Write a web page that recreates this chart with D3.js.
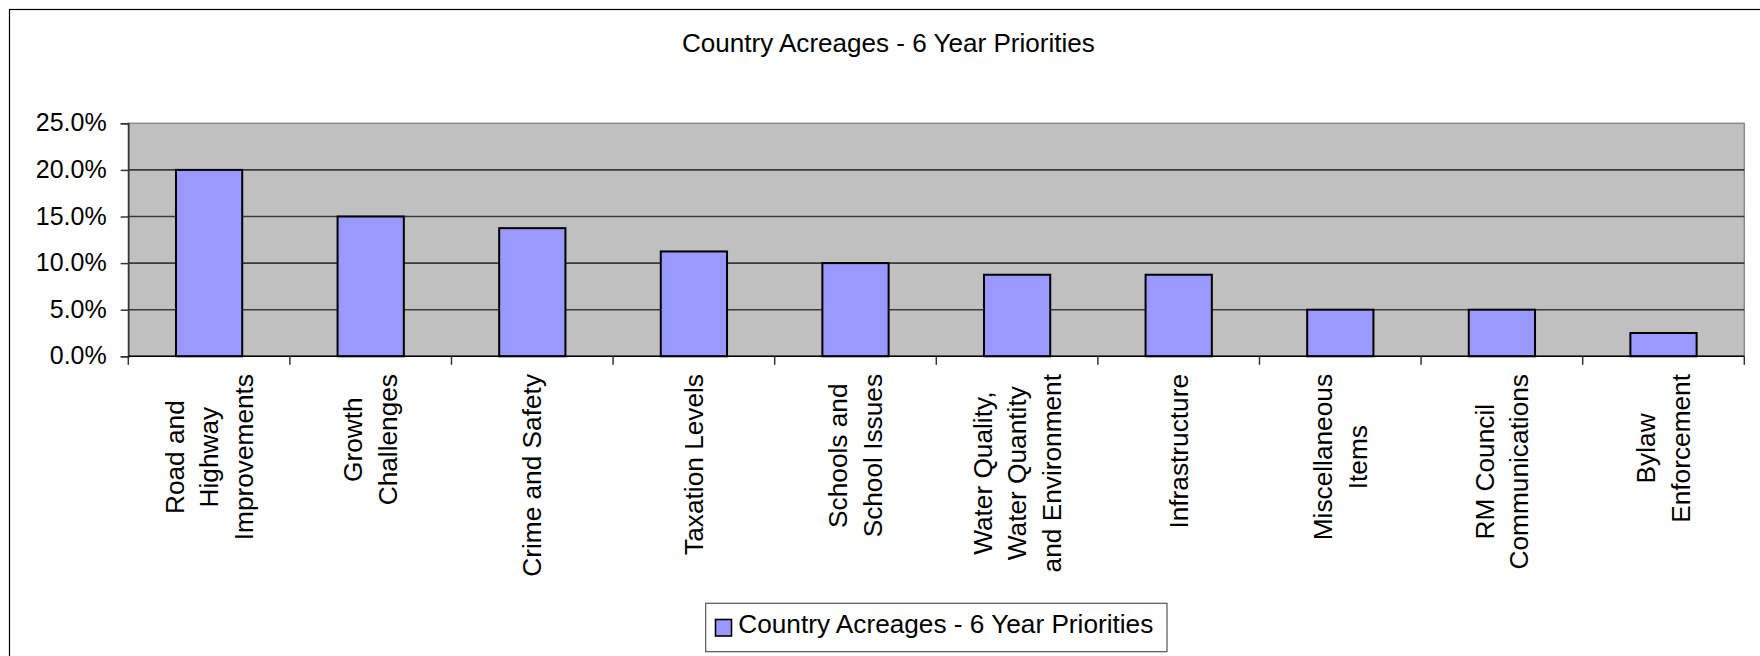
<!DOCTYPE html>
<html>
<head>
<meta charset="utf-8">
<script src="https://cdn.jsdelivr.net/npm/d3@7"></script>
<style>
  html, body { margin: 0; padding: 0; background: #fff; }
  svg { display: block; }
  text { font-family: "Liberation Sans", Arial, Helvetica, sans-serif; fill: #000; }
</style>
</head>
<body>
<svg id="chart" width="1760" height="656"></svg>
<script>
// Priority categories (line breaks mark wrapped axis labels)
const categories = [
  "Road and\nHighway\nImprovements",
  "Growth\nChallenges",
  "Crime and Safety",
  "Taxation Levels",
  "Schools and\nSchool Issues",
  "Water Quality,\nWater Quantity\nand Environment",
  "Infrastructure",
  "Miscellaneous\nItems",
  "RM Council\nCommunications",
  "Bylaw\nEnforcement"
];
// Share of responses for each priority
const shares = [0.20, 0.15, 0.1375, 0.1125, 0.10, 0.0875, 0.0875, 0.05, 0.05, 0.025];
const yTicks = [0, 0.05, 0.10, 0.15, 0.20, 0.25];
const seriesName = "Country Acreages - 6 Year Priorities";
const chartTitle = "Country Acreages - 6 Year Priorities";

const svg = d3.select("#chart");

// outer chart frame
svg.append("rect")
  .attr("x", 9.5).attr("y", 9.5)
  .attr("width", 1800).attr("height", 700)
  .attr("fill", "#fff").attr("stroke", "#000").attr("stroke-width", 1.2);

const plot = { left: 128.3, right: 1744.3, top: 123.3, bottom: 356.3 };

const x = d3.scaleBand()
  .domain(categories)
  .range([plot.left, plot.right])
  .paddingInner(0.59)
  .paddingOuter(0.295);

const y = d3.scaleLinear()
  .domain([0, 0.25])
  .range([plot.bottom, plot.top]);

// plot background
svg.append("rect")
  .attr("x", plot.left).attr("y", plot.top)
  .attr("width", plot.right - plot.left).attr("height", plot.bottom - plot.top)
  .attr("fill", "#c0c0c0").attr("stroke", "#8a8a8a").attr("stroke-width", 1.5);

// horizontal gridlines
svg.append("g")
  .selectAll("line")
  .data(yTicks.filter(d => d > 0 && d < 0.25))
  .join("line")
  .attr("x1", plot.left).attr("x2", plot.right)
  .attr("y1", d => y(d)).attr("y2", d => y(d))
  .attr("stroke", "#3a3a3a").attr("stroke-width", 1.6);

// bars
svg.append("g")
  .selectAll("rect")
  .data(categories.map((c, i) => ({ c, v: shares[i] })))
  .join("rect")
  .attr("x", d => x(d.c))
  .attr("y", d => y(d.v))
  .attr("width", x.bandwidth())
  .attr("height", d => y(0) - y(d.v))
  .attr("fill", "#9999ff")
  .attr("stroke", "#000")
  .attr("stroke-width", 2);

// y axis
const yAxis = svg.append("g")
  .attr("transform", `translate(${plot.left},0)`)
  .call(d3.axisLeft(y).tickValues(yTicks).tickFormat(d3.format(".1%")).tickSize(7.6).tickPadding(14));
yAxis.select(".domain").attr("stroke", "#333").attr("stroke-width", 1.5);
yAxis.selectAll(".tick line").attr("stroke", "#333").attr("stroke-width", 1.5);
yAxis.selectAll(".tick text")
  .attr("font-size", 25)
  .attr("font-family", "Liberation Sans, Arial, sans-serif")
  .attr("fill", "#000")
  .attr("dy", "0.3em");

// x axis baseline and category boundary ticks
svg.append("line")
  .attr("x1", plot.left).attr("x2", plot.right)
  .attr("y1", plot.bottom).attr("y2", plot.bottom)
  .attr("stroke", "#000").attr("stroke-width", 1.6);
const boundaries = categories.map(c => x(c) + x.bandwidth() / 2 - x.step() / 2)
  .concat([x(categories[categories.length - 1]) + x.bandwidth() / 2 + x.step() / 2]);
svg.append("g")
  .selectAll("line")
  .data(boundaries)
  .join("line")
  .attr("x1", d => d).attr("x2", d => d)
  .attr("y1", plot.bottom).attr("y2", plot.bottom + 8.5)
  .attr("stroke", "#333").attr("stroke-width", 1.5);

// rotated category labels, lines centred within each block
const lineGap = 34.5;
const labelTop = 374;
const stretch = 1.05;
const labelG = svg.append("g");
categories.forEach(c => {
  const lines = c.split("\n");
  const cx = x(c) + x.bandwidth() / 2;
  const g = labelG.append("g").attr("transform", `translate(${cx},0) rotate(-90) scale(${stretch},1)`);
  const texts = lines.map((ln, i) => g.append("text")
    .attr("font-size", 25)
    .attr("text-anchor", "middle")
    .attr("y", (i - (lines.length - 1) / 2) * lineGap + 9)
    .text(ln));
  const maxLen = d3.max(texts, t => t.node().getComputedTextLength());
  texts.forEach(t => t.attr("x", -(labelTop / stretch + maxLen / 2)));
});

// title
svg.append("text")
  .attr("x", 888.4).attr("y", 52.3)
  .attr("text-anchor", "middle")
  .attr("font-size", 25)
  .attr("textLength", 413)
  .attr("lengthAdjust", "spacingAndGlyphs")
  .text(chartTitle);

// legend
const legend = svg.append("g");
legend.append("rect")
  .attr("x", 705.7).attr("y", 603.3)
  .attr("width", 1167 - 705.7).attr("height", 651.7 - 603.3)
  .attr("fill", "#fff").attr("stroke", "#555").attr("stroke-width", 1.2);
legend.append("rect")
  .attr("x", 715.5).attr("y", 619.5)
  .attr("width", 16).attr("height", 16.5)
  .attr("fill", "#9999ff").attr("stroke", "#000").attr("stroke-width", 1.6);
legend.append("text")
  .attr("x", 738.3).attr("y", 633.3)
  .attr("font-size", 25)
  .attr("textLength", 415)
  .attr("lengthAdjust", "spacingAndGlyphs")
  .text(seriesName);
</script>
</body>
</html>
